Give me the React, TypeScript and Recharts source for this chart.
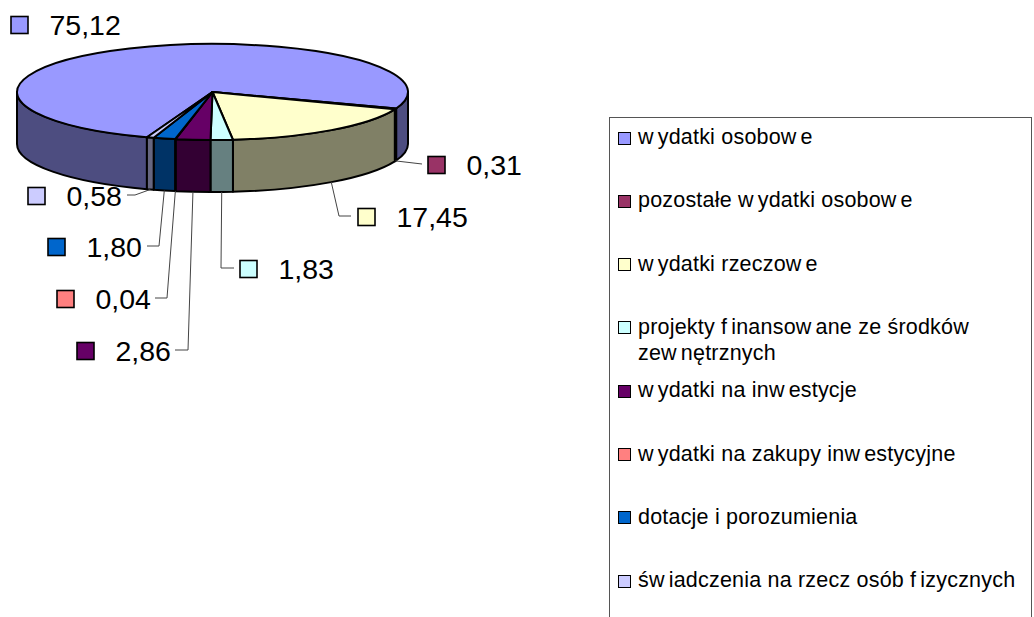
import { Fragment } from 'react';
import { PieChart, Pie, Legend } from 'recharts';

const categories = [
  'wydatki osobowe',
  'pozostałe wydatki osobowe',
  'wydatki rzeczowe',
  'projekty finansowane ze środków zewnętrznych',
  'wydatki na inwestycje',
  'wydatki na zakupy inwestycyjne',
  'dotacje i porozumienia',
  'świadczenia na rzecz osób fizycznych',
];
const values = [75.12, 0.31, 17.45, 1.83, 2.86, 0.04, 1.8, 0.58];
const colors = ['#9999FF', '#993366', '#FFFFCC', '#CCFFFF', '#660066', '#FF8080', '#0066CC', '#CCCCFF'];
const valueLabels = ['75,12', '0,31', '17,45', '1,83', '2,86', '0,04', '1,80', '0,58'];

// where the hand placed data labels sit: legend key left, centre y, leader elbow x, leader end x
const labelKeyX = [11, 428, 358, 240, 77, 57, 48, 28];
const labelCenterY = [25, 165, 217, 269, 351, 299, 247, 196];
const leaderElbowX = [null, null, 339, 221, 188, 167, 159, 135];
const leaderEndX = [null, 422, 351, 234, 175, 155, 147, 127];

const tableData = categories.map((name, i) => ({ name, value: values[i], fill: colors[i] }));

const FONT = '"Liberation Sans", Arial, sans-serif';
const CX = 212.5;
const CY = 92;
const RX = 195.5;
const RY = 48;
const DEPTH = 52;

const darken = (hex: string) => {
  const n = parseInt(hex.slice(1), 16);
  const half = (v: number) => Math.round(v / 2);
  return `rgb(${half((n >> 16) & 255)},${half((n >> 8) & 255)},${half(n & 255)})`;
};

// math angle in degrees -> point on the flattened rim
const rim = (cx: number, cy: number, rx: number, deg: number) => {
  const a = (deg * Math.PI) / 180;
  return { x: cx + rx * Math.cos(a), y: cy - rx * (RY / RX) * Math.sin(a) };
};

const Slice3D = (props: any) => {
  const { cx, cy, outerRadius: rx, startAngle, endAngle, fill } = props;
  const ry = rx * (RY / RX);
  const s = -startAngle;
  const e = -endAngle;
  const walls: string[] = [];
  // the front of the pie is 0..180 measured clockwise
  for (const k of [-360, 0, 360]) {
    const from = Math.max(s, k);
    const to = Math.min(e, k + 180);
    if (to > from) {
      const a = rim(cx, cy, rx, -from);
      const b = rim(cx, cy, rx, -to);
      walls.push(
        `M${a.x},${a.y}A${rx},${ry} 0 0 1 ${b.x},${b.y}L${b.x},${b.y + DEPTH}A${rx},${ry} 0 0 0 ${a.x},${a.y + DEPTH}Z`,
      );
    }
  }
  const p0 = rim(cx, cy, rx, startAngle);
  const p1 = rim(cx, cy, rx, endAngle);
  const large = Math.abs(endAngle - startAngle) > 180 ? 1 : 0;
  return (
    <g>
      {walls.map((d) => (
        <path key={d} d={d} fill={darken(fill)} stroke="#000" strokeWidth={2} strokeLinejoin="round" />
      ))}
      <path
        d={`M${cx},${cy}L${p0.x},${p0.y}A${rx},${ry} 0 ${large} 1 ${p1.x},${p1.y}Z`}
        fill={fill}
        stroke="#000"
        strokeWidth={2}
        strokeLinejoin="round"
      />
    </g>
  );
};

const SliceLabel = (props: any) => {
  const { cx, cy, outerRadius, midAngle, index } = props;
  const keyX = labelKeyX[index];
  const y = labelCenterY[index];
  const endX = leaderEndX[index];
  const elbowX = leaderElbowX[index];
  const anchor = rim(cx, cy, outerRadius, midAngle);
  const points = [`${anchor.x},${anchor.y + DEPTH}`];
  if (elbowX != null) points.push(`${elbowX},${y - 1}`);
  if (endX != null) points.push(`${endX},${y - 1}`);
  return (
    <g>
      {endX != null && <polyline points={points.join(' ')} fill="none" stroke="#444" strokeWidth={1} />}
      <rect x={keyX} y={y - 8.5} width={17} height={17} fill={colors[index]} stroke="#000" strokeWidth={1.6} />
      <text x={keyX + 38.5} y={y + 9.5} fontFamily={FONT} fontSize={28.5} fill="#000">
        {valueLabels[index]}
      </text>
    </g>
  );
};

// the original prints a small gap after every w and f
const spaced = (text: string) =>
  text.split(/(?<=[wf])/).map((part, i) => (
    <span key={i} style={{ marginRight: /[wf]$/.test(part) ? 4 : 0 }}>
      {part}
    </span>
  ));

const LegendBox = ({ payload }: any) => (
  <div
    style={{
      position: 'relative',
      width: 423,
      height: 560,
      border: '1px solid #555',
      boxSizing: 'border-box',
      fontFamily: FONT,
      fontSize: 21.5,
      letterSpacing: 0.2,
      color: '#000',
    }}
  >
    {(payload || []).map((entry: any, i: number) => (
      <Fragment key={entry.value}>
        <div
          style={{
            position: 'absolute',
            left: 8,
            top: 13.5 + i * 63.3,
            width: 11,
            height: 11,
            background: colors[i],
            border: '1.5px solid #000',
          }}
        />
        <div
          style={{
            position: 'absolute',
            left: 28,
            top: 6 + i * 63.3,
            width: 392,
            lineHeight: '26.5px',
          }}
        >
          {spaced(entry.value)}
        </div>
      </Fragment>
    ))}
  </div>
);

export default function App() {
  return (
    <div style={{ position: 'absolute', left: 0, top: 0, width: 1034, height: 617, overflow: 'hidden', background: '#fff' }}>
      <PieChart width={1034} height={617} margin={{ top: 0, right: 0, bottom: 0, left: 0 }}>
        <Pie
          data={tableData}
          dataKey="value"
          nameKey="name"
          cx={CX}
          cy={CY}
          innerRadius={0}
          outerRadius={RX}
          startAngle={250.4}
          endAngle={-109.6}
          paddingAngle={0}
          stroke="#000"
          isAnimationActive={false}
          shape={Slice3D}
          label={SliceLabel}
          labelLine={false}
        />
        <Legend
          content={<LegendBox />}
          itemSorter={null}
          wrapperStyle={{ left: 609, top: 117, width: 423, height: 500, overflow: 'hidden' }}
        />
      </PieChart>
    </div>
  );
}
